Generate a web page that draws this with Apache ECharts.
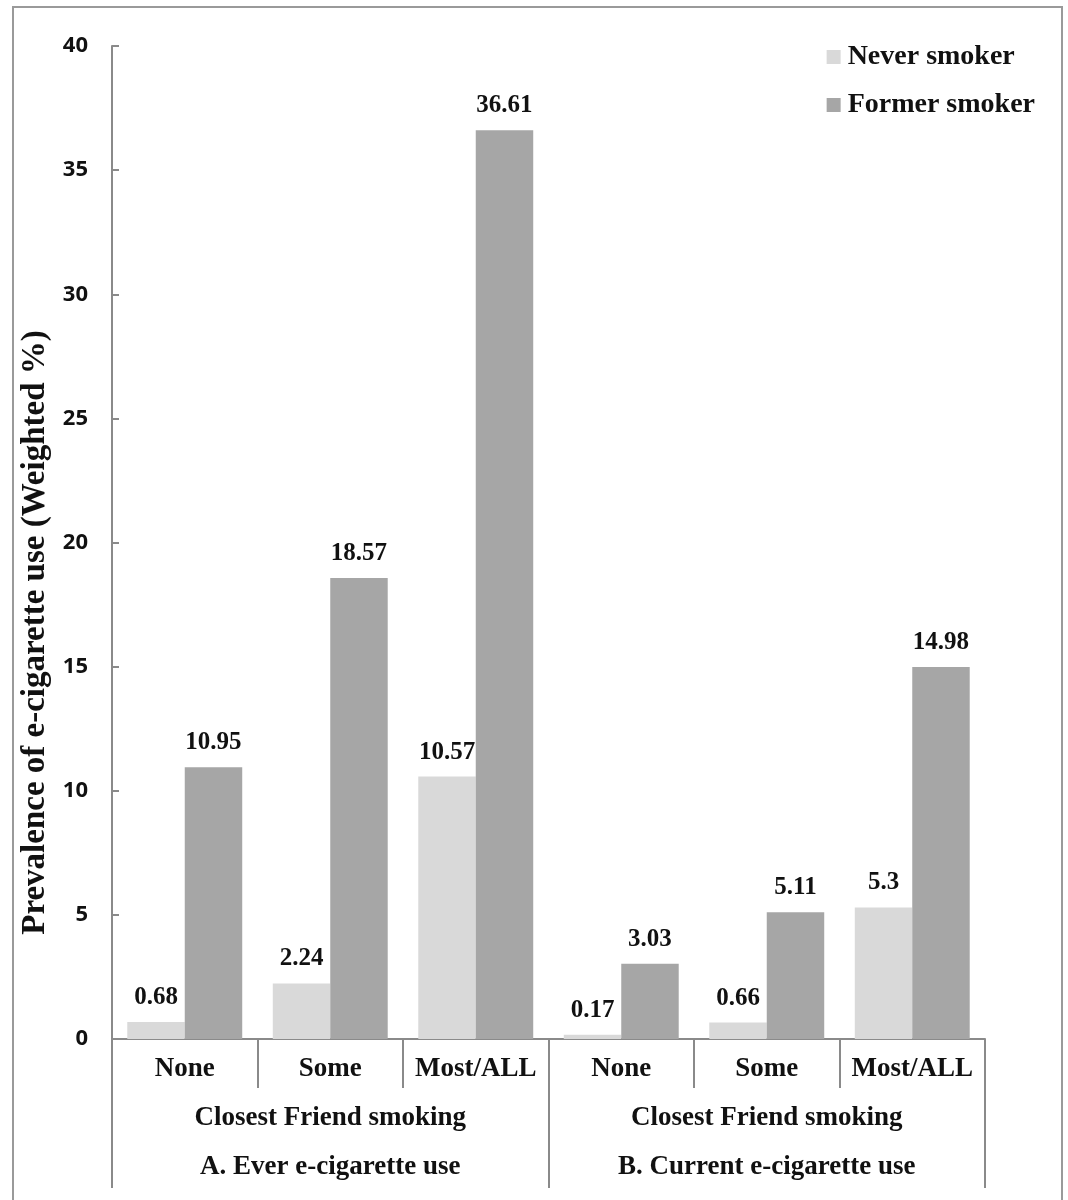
<!DOCTYPE html>
<html>
<head>
<meta charset="utf-8">
<script src="https://cdn.jsdelivr.net/npm/echarts@6/dist/echarts.min.js"></script>
<style>
  html, body { margin: 0; padding: 0; background: #fff; }
  #chart { width: 1068px; height: 1200px; position: absolute; left: 0; top: 0; }
  #frame { position: absolute; left: 12px; top: 6px; width: 1051px; height: 1210px;
           border: 2px solid #9a9a9a; pointer-events: none; box-sizing: border-box; }
</style>
</head>
<body>
<div id="chart"></div>
<div id="frame"></div>
<script>
// ---- data ----
const categories = ['None', 'Some', 'Most/ALL', 'None', 'Some', 'Most/ALL'];
const neverSmoker = [0.68, 2.24, 10.57, 0.17, 0.66, 5.3];
const formerSmoker = [10.95, 18.57, 36.61, 3.03, 5.11, 14.98];
const seriesNames = ['Never smoker', 'Former smoker'];
const groupSubtitle = 'Closest Friend smoking';
const groupTitles = ['A. Ever e-cigarette use', 'B. Current e-cigarette use'];
const yTicks = { min: 0, max: 40, interval: 5 };
const yTitle = 'Prevalence of e-cigarette use (Weighted %)';

const serif = '"Liberation Serif", "Times New Roman", serif';
const axisColor = '#8a8a8a';

const chart = echarts.init(document.getElementById('chart'), null, { renderer: 'canvas' });

const labelStyle = {
  show: true,
  position: 'top',
  distance: 12,
  color: '#111',
  fontFamily: serif,
  fontWeight: 'bold',
  fontSize: 25
};

chart.setOption({
  animation: false,
  backgroundColor: '#fff',
  grid: { left: 112, right: 83, top: 46, bottom: 161, containLabel: false },
  legend: {
    orient: 'vertical',
    right: 28,
    top: 38,
    itemGap: 20,
    itemWidth: 14,
    itemHeight: 14,
    icon: 'rect',
    textStyle: { fontFamily: serif, fontWeight: 'bold', fontSize: 28, color: '#111', padding: [0, 0, 0, 2] },
    data: seriesNames
  },
  xAxis: [
    {
      type: 'category',
      data: categories,
      position: 'bottom',
      axisLine: { show: true, lineStyle: { color: axisColor, width: 2 } },
      axisTick: { show: true, alignWithLabel: false, interval: 0, length: 49, lineStyle: { color: axisColor, width: 2 } },
      axisLabel: { interval: 0, margin: 17, color: '#111', fontFamily: serif, fontWeight: 'bold', fontSize: 27 }
    },
    {
      type: 'category',
      data: groupTitles.map(t => groupSubtitle + '\n' + t),
      position: 'bottom',
      offset: 0,
      axisLine: { show: false },
      axisTick: { show: true, interval: 0, length: 149, lineStyle: { color: axisColor, width: 2 } },
      axisLabel: { interval: 0, margin: 55, color: '#111', fontFamily: serif, fontWeight: 'bold', fontSize: 27, lineHeight: 49 }
    }
  ],
  yAxis: {
    type: 'value',
    min: yTicks.min,
    max: yTicks.max,
    interval: yTicks.interval,
    name: yTitle,
    nameLocation: 'middle',
    nameRotate: 90,
    nameGap: 55,
    nameTextStyle: { fontFamily: serif, fontWeight: 'bold', fontSize: 33, color: '#111', padding: [0, 180, 0, 0] },
    axisLine: { show: true, lineStyle: { color: axisColor, width: 2 } },
    axisTick: { show: true, inside: true, length: 7, lineStyle: { color: axisColor, width: 2 } },
    axisLabel: { margin: 24, color: '#111', fontFamily: '"Open Sans", "DejaVu Sans", sans-serif', fontWeight: 'bold', fontSize: 22 },
    splitLine: { show: false }
  },
  series: [
    {
      name: seriesNames[0],
      type: 'bar',
      xAxisIndex: 0,
      data: neverSmoker,
      barGap: '0%',
      barCategoryGap: '21%',
      itemStyle: { color: '#d9d9d9' },
      label: labelStyle
    },
    {
      name: seriesNames[1],
      type: 'bar',
      xAxisIndex: 0,
      data: formerSmoker,
      barGap: '0%',
      barCategoryGap: '21%',
      itemStyle: { color: '#a6a6a6' },
      label: labelStyle
    }
  ]
});
</script>
</body>
</html>
